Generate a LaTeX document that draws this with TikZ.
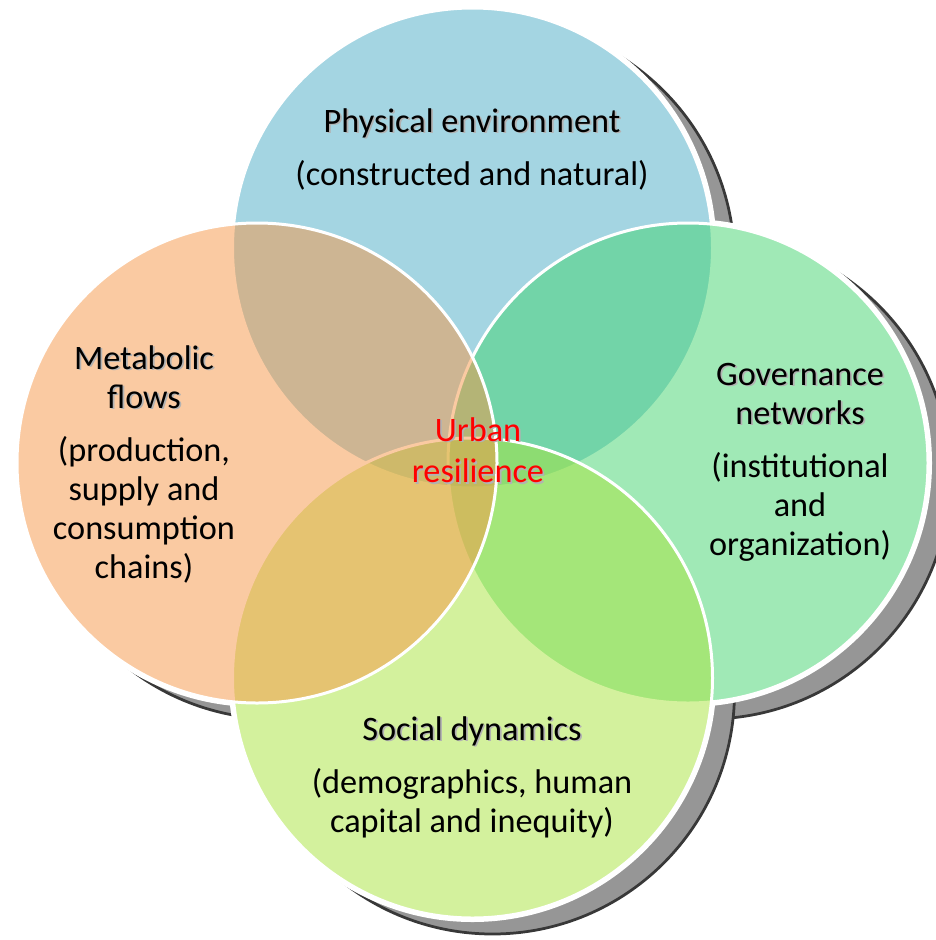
\documentclass[tikz,border=0pt]{standalone}
\usepackage{fontspec}
\setmainfont{Carlito}
\usepackage{tikz}
\definecolor{bleu}{HTML}{4BACC6}
\definecolor{orange}{HTML}{F79646}
\definecolor{vert}{HTML}{42D46F}
\definecolor{vertclair}{HTML}{A9E53D}
% titre avec une petite ombre grise
\newcommand{\ot}[1]{\leavevmode\rlap{\raisebox{-0.035cm}{\hspace{0.035cm}\textcolor{black!30}{#1}}}#1}
\begin{document}
\begin{tikzpicture}[x=0.02cm,y=-0.02cm]
\tikzstyle{ombre}=[fill=black!41,draw=black!78,line width=0.055cm]
\tikzstyle{cercle}=[fill opacity=0.5,draw=white,line width=0.06cm]
\tikzstyle{texte}=[align=center,font=\fontsize{19.5}{22.2}\selectfont]
\useasboundingbox (0,0) rectangle (936,940);
\clip (0,0) rectangle (936,940);
%ombres
\foreach \x/\y in {472.5/248,257/463,688/463,472.5/678}
  \draw[ombre] (\x+20,\y+14) circle[radius=242];
\foreach \x/\y in {472.5/248,257/463,688/463,472.5/678}
  \fill[white] (\x,\y) circle[radius=244];
%cercles
\path[cercle,fill=bleu] (472.5,248) circle[radius=240];
\path[cercle,fill=vert] (688,463) circle[radius=240];
\path[cercle,fill=vertclair] (472.5,678) circle[radius=240];
\path[cercle,fill=orange] (257,463) circle[radius=240];
%textes
\node[texte] (physique) at (472,149) {\ot{Physical environment}\\[0.28cm](constructed and natural)};
\node[texte] (metabolisme) at (144,464) {\ot{Metabolic}\\\ot{flows}\\[0.28cm](production,\\supply and\\consumption\\chains)};
\node[texte] (gouvernance) at (800,462) {\ot{Governance}\\\ot{networks}\\[0.28cm](institutional\\and\\organization)};
\node[texte] (social) at (472,777) {\ot{Social dynamics}\\[0.28cm](demographics, human\\capital and inequity)};
\node[texte,text=red] (resilience) at (478,451) {\ot{Urban}\\[0.05cm]\ot{resilience}};
\end{tikzpicture}
\end{document}
